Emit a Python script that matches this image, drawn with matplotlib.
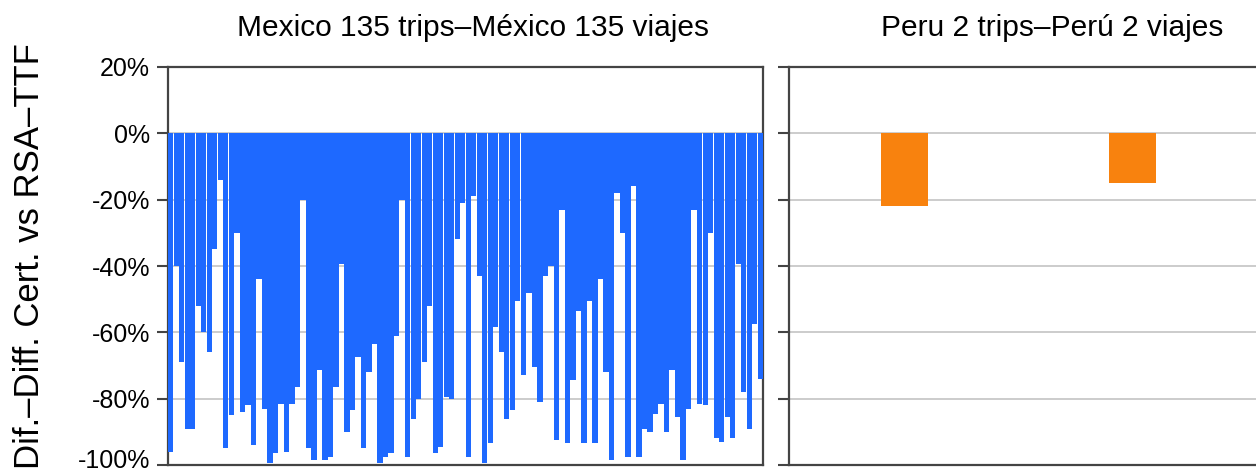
import numpy as np
import matplotlib
matplotlib.use('Agg')
import matplotlib.pyplot as plt
import matplotlib.transforms as mtransforms
from matplotlib.ticker import FixedLocator

# Datos (diferencia en %)
mexico_vals = [
    -96, -40, -69, -89, -89, -52, -60, -66, -35, -14, -95, -85, -30, -84, -82, -94, -44, -83,
    -99.5, -96.5, -81.5, -96, -81.5, -76.5, -20, -95, -98.5, -71.5, -98.5, -97.5, -76.5, -39.5, -90, -83.5, -67.5, -95,
    -72, -63.5, -99.5, -97.5, -96.5, -61, -20, -97.5, -86, -80, -69, -52, -96.5, -94.5, -79.5, -80, -32, -21,
    -97.5, -19, -43, -99.5, -93.5, -58.5, -66, -86, -83.5, -50.5, -73, -48, -70.5, -81, -43, -40, -92.5, -23,
    -93.5, -74.5, -53.5, -93.5, -50.5, -93.5, -44, -72, -98.5, -18, -30, -97.5, -16, -97.5, -89, -90, -84.5, -81.5,
    -90, -71.5, -85.5, -98.5, -83, -23, -81.5, -82, -30, -92, -93, -85.5, -92, -39.5, -78, -89, -57.5, -74,
]
peru_vals = [-22, -15]

mexico_title = 'Mexico 135 trips\u2013México 135 viajes'
peru_title = 'Peru 2 trips\u2013Perú 2 viajes'
ylabel = 'Dif.\u2013Diff. Cert. vs RSA\u2013TTF'
yticks = [0.2, 0, -0.2, -0.4, -0.6, -0.8, -1.0]
ytick_labels = ['20%', '0%', '-20%', '-40%', '-60%', '-80%', '-100%']

blue = '#1e69ff'
orange = '#f8820e'
grid_color = '#c4c4c4'
spine_color = '#444444'

plt.rcParams['font.family'] = ['Liberation Sans', 'DejaVu Sans']

W, H = 1256, 471
fig = plt.figure(figsize=(W / 100, H / 100), dpi=100)

def px_box(x0, x1, y0, y1):
    return [x0 / W, 1 - y1 / H, (x1 - x0) / W, (y1 - y0) / H]

ax1 = fig.add_axes(px_box(168, 763, 67, 465))
ax2 = fig.add_axes(px_box(789, 1315, 67, 465))

for ax in (ax1, ax2):
    ax.set_ylim(-1.0, 0.2)
    ax.yaxis.set_major_locator(FixedLocator(yticks))
    ax.grid(axis='y', color=grid_color, linewidth=1.2, zorder=0)
    ax.set_axisbelow(True)
    ax.set_xticks([])
    for s in ax.spines.values():
        s.set_color(spine_color)
        s.set_linewidth(1.6)
    ax.tick_params(axis='y', length=8, width=1.5, color=spine_color, pad=5)

# Mexico: barras casi contiguas
vals = np.array(mexico_vals) / 100
x = np.arange(len(vals))
ax1.bar(x, vals, width=0.96, color=blue, linewidth=0, zorder=3)
ax1.set_xlim(-0.5, len(vals) - 0.5)
ax1.set_yticklabels(ytick_labels, fontsize=18)
# subir un poco la etiqueta inferior para que no quede cortada
last = ax1.get_yticklabels()[-1]
last.set_transform(last.get_transform() + mtransforms.ScaledTranslation(0, 7 / 100, fig.dpi_scale_trans))

# Peru
ax2.bar([0, 1], np.array(peru_vals) / 100, width=0.206, color=orange, zorder=3)
ax2.set_xlim(-0.509, 1.8)
ax2.set_yticklabels([])

fig.text(473 / W, 1 - 28 / H, mexico_title, ha='center', va='center', fontsize=21.5)
fig.text(1052 / W, 1 - 28 / H, peru_title, ha='center', va='center', fontsize=21.5)
fig.text(30 / W, 1 - 256 / H, ylabel, rotation=90, ha='center', va='center', fontsize=25)

fig.savefig('out.png', dpi=100)
